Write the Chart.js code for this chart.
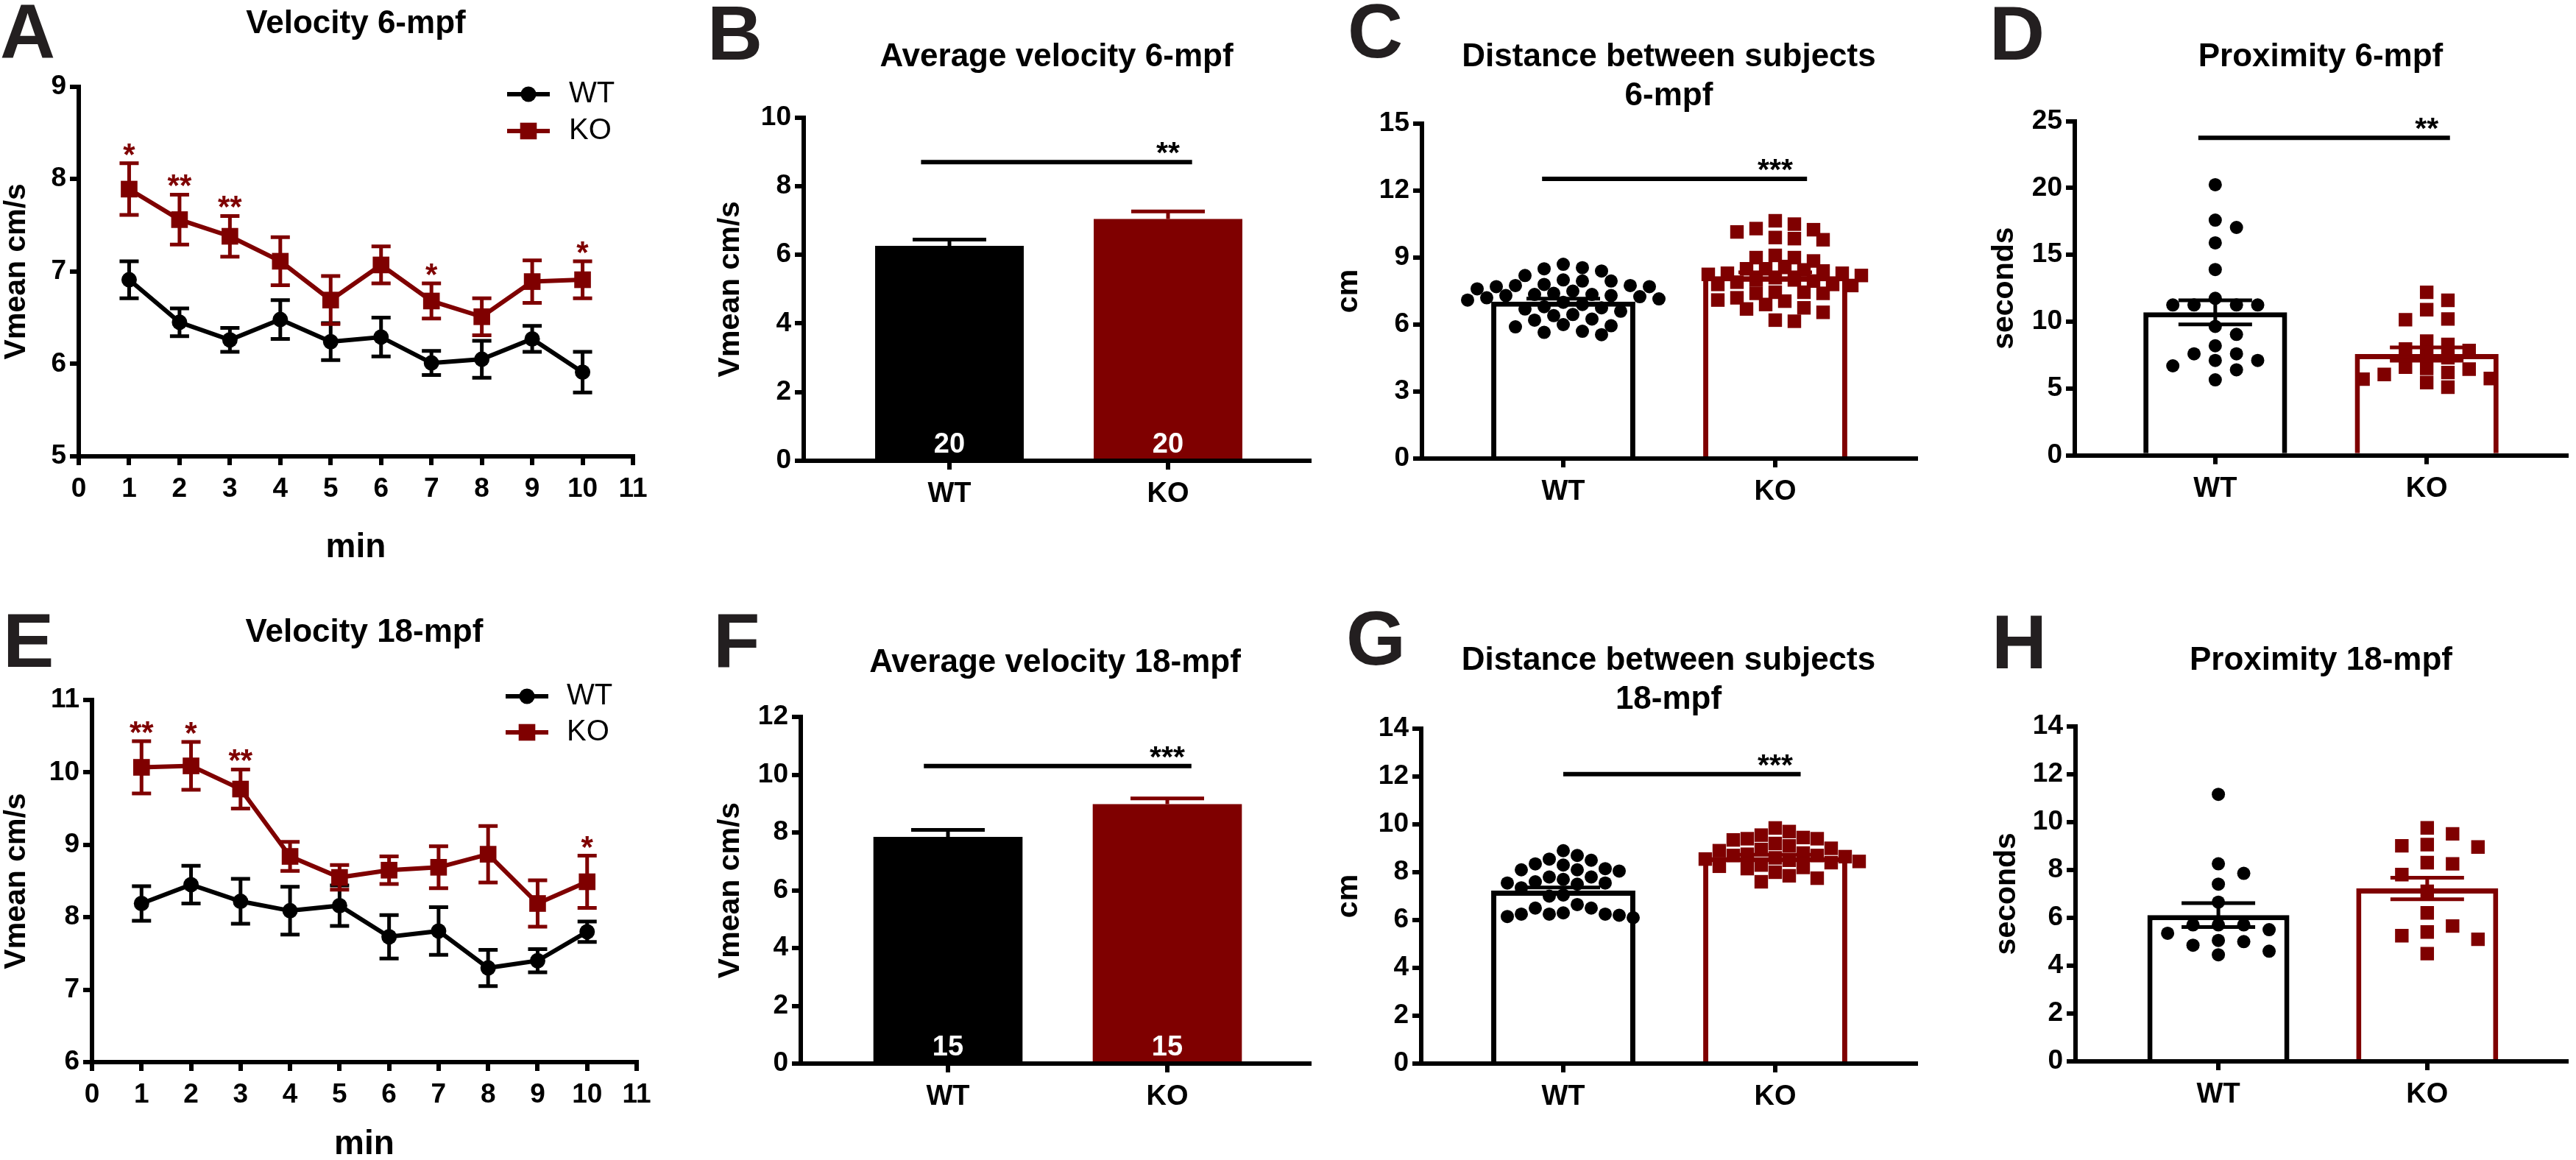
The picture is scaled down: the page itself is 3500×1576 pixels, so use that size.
<!DOCTYPE html>
<html>
<head>
<meta charset="utf-8">
<script src="https://cdn.jsdelivr.net/npm/chart.js@4.4.1/dist/chart.umd.min.js"></script>
<style>
  html, body { margin: 0; padding: 0; background: #fff; }
  #fig { position: relative; width: 3500px; height: 1576px; background: #fff; overflow: hidden; }
  #fig canvas { position: absolute; }
</style>
</head>
<body>
<div id="fig"></div>
<script>
// ---- data ----
var groups = ['WT', 'KO'];
var minutes = [1, 2, 3, 4, 5, 6, 7, 8, 9, 10];
var minuteTicks = [0, 1, 2, 3, 4, 5, 6, 7, 8, 9, 10, 11];

// A: velocity 6-mpf
var vel6Ticks = [5, 6, 7, 8, 9];
var vel6WT = [6.91, 6.45, 6.26, 6.48, 6.24, 6.29, 6.01, 6.05, 6.27, 5.91];
var vel6WTSem = [0.20, 0.15, 0.13, 0.21, 0.20, 0.21, 0.13, 0.20, 0.14, 0.22];
var vel6KO = [7.89, 7.56, 7.38, 7.11, 6.69, 7.07, 6.68, 6.51, 6.89, 6.91];
var vel6KOSem = [0.28, 0.27, 0.22, 0.26, 0.26, 0.20, 0.19, 0.20, 0.23, 0.20];
var vel6Stars = ['*', '**', '**', '', '', '', '*', '', '', '*'];

// E: velocity 18-mpf
var vel18Ticks = [6, 7, 8, 9, 10, 11];
var vel18WT = [8.19, 8.45, 8.22, 8.09, 8.16, 7.73, 7.81, 7.30, 7.40, 7.80];
var vel18WTSem = [0.24, 0.26, 0.31, 0.33, 0.28, 0.30, 0.33, 0.25, 0.16, 0.14];
var vel18KO = [10.07, 10.09, 9.77, 8.84, 8.55, 8.65, 8.69, 8.87, 8.19, 8.49];
var vel18KOSem = [0.36, 0.33, 0.27, 0.20, 0.17, 0.19, 0.29, 0.39, 0.32, 0.36];
var vel18Stars = ['**', '*', '**', '', '', '', '', '', '', '*'];

// B / F: average velocity
var avg6Ticks = [0, 2, 4, 6, 8, 10];
var avg6Mean = [6.26, 7.04];
var avg6Sem = [0.18, 0.22];
var avg6N = [20, 20];
var avg6Bracket = [0.87, 2.11, 8.7];
var avg18Ticks = [0, 2, 4, 6, 8, 10, 12];
var avg18Mean = [7.85, 8.98];
var avg18Sem = [0.24, 0.20];
var avg18N = [15, 15];
var avg18Bracket = [0.89, 2.11, 10.3];

// C / G: distance between subjects
var dist6Ticks = [0, 3, 6, 9, 12, 15];
var dist6Mean = [7.03, 8.17];
var dist6Sem = [0.13, 0.17];
var dist6Bracket = [0.9, 2.15, 12.53];
var dist6WT = [8.7, 8.55, 8.5, 8.4, 8.2, 8.0, 7.95, 7.95, 7.8, 7.75, 7.75, 7.7, 7.7, 7.6, 7.5, 7.4, 7.35, 7.35, 7.3, 7.3,
               7.25, 7.2, 7.15, 7.1, 7.0, 6.9, 6.8, 6.75, 6.7, 6.6, 6.45, 6.4, 6.25, 6.2, 6.0, 5.95, 5.9, 5.7, 5.65, 5.55];
var dist6KO = [10.65, 10.5, 10.3, 10.25, 10.15, 9.9, 9.85, 9.8, 9.1, 9.0, 9.0, 8.85, 8.6, 8.5, 8.5, 8.45, 8.4, 8.3, 8.3, 8.25, 8.2,
               8.1, 8.0, 8.0, 7.95, 7.9, 7.8, 7.8, 7.75, 7.45, 7.45, 7.4, 7.4, 7.2, 7.1, 7.05, 6.9, 6.75, 6.7, 6.55, 6.2, 6.15];
var dist18Ticks = [0, 2, 4, 6, 8, 10, 12, 14];
var dist18Mean = [7.23, 8.63];
var dist18Sem = [0.13, 0.10];
var dist18Bracket = [1.0, 2.12, 12.1];
var dist18WT = [8.9, 8.7, 8.55, 8.5, 8.35, 8.3, 8.15, 8.1, 8.1, 8.05, 7.8, 7.8, 7.7, 7.6, 7.55, 7.55, 7.5, 7.35, 7.05, 7.0,
                6.65, 6.5, 6.5, 6.3, 6.25, 6.25, 6.25, 6.2, 6.15, 6.1];
var dist18KO = [9.85, 9.7, 9.55, 9.45, 9.4, 9.4, 9.35, 9.2, 9.1, 9.0, 8.95, 8.9, 8.8, 8.75, 8.7, 8.7, 8.65, 8.6, 8.55, 8.5,
                8.45, 8.4, 8.3, 8.25, 8.2, 8.15, 8.0, 7.85, 7.75, 7.6];

// D / H: proximity
var prox6Ticks = [0, 5, 10, 15, 20, 25];
var prox6Mean = [10.7, 7.58];
var prox6Sem = [0.9, 0.5];
var prox6Bracket = [0.92, 2.11, 23.75];
var prox6WT = [20.25, 17.6, 17.05, 15.9, 13.9, 11.75, 11.25, 11.25, 11.25, 11.25, 9.65, 9.05, 8.2, 7.6, 7.6, 7.1, 7.1, 6.7, 6.4, 5.65];
var prox6KO = [12.2, 11.6, 10.9, 10.2, 10.15, 8.55, 8.3, 7.95, 7.85, 7.5, 7.3, 6.6, 6.5, 6.45, 6.2, 6.05, 5.75, 5.7, 5.45, 5.1];
var prox18Ticks = [0, 2, 4, 6, 8, 10, 12, 14];
var prox18Mean = [6.11, 7.22];
var prox18Sem = [0.5, 0.45];
var prox18WT = [11.15, 8.25, 7.85, 7.4, 6.65, 5.7, 5.7, 5.5, 5.7, 5.35, 5.05, 4.85, 5.0, 4.6, 4.45];
var prox18KO = [9.75, 9.5, 9.0, 8.95, 9.05, 8.3, 8.25, 7.8, 7.1, 6.2, 5.65, 5.4, 5.25, 5.1, 4.5];

// ---- styling ----
var FONT = '"Liberation Sans", Arial, sans-serif';
var BLACK = '#000000';
var RED = '#7f0000';
var INK = '#231f20';
var colors = [BLACK, RED];
var TITLE_PX = 44, XTITLE_PX = 46, YTITLE_PX = 41;
Chart.defaults.font.family = FONT;
Chart.defaults.color = BLACK;

function addCanvas(box) {
  var c = document.createElement('canvas');
  c.width = box[2];
  c.height = box[3];
  c.style.left = box[0] + 'px';
  c.style.top = box[1] + 'px';
  c.style.width = box[2] + 'px';
  c.style.height = box[3] + 'px';
  document.getElementById('fig').appendChild(c);
  return c;
}

// works out paddings so the plot area lands where it is in the figure
function setup(g) {
  var cx = g.box[0], cy = g.box[1], cw = g.box[2], ch = g.box[3];
  var lines = Array.isArray(g.title) ? g.title.length : 1;
  var tlh = TITLE_PX * 1.2;
  var padTop = g.titleY - tlh / 2 - cy;
  var padLeft = g.yTitleX - YTITLE_PX / 2 - cx;
  var xh = g.xTitleY ? g.xTitleY - g.B + XTITLE_PX * 0.8 / 2 : 70;
  return {
    cx: cx, cy: cy,
    padding: { top: padTop, left: padLeft, right: cx + cw - g.R, bottom: cy + ch - g.B - xh },
    titlePadBottom: g.T - cy - padTop - lines * tlh,
    yWidth: g.L - cx - padLeft,
    xHeight: xh
  };
}

function axisGrid() {
  return { display: true, drawOnChartArea: false, drawTicks: true, tickLength: 12, lineWidth: 6, color: BLACK, offset: false };
}
function axisBorder() {
  return { display: true, color: BLACK, width: 6 };
}

function yAxis(lay, ticks, text) {
  return {
    type: 'linear', position: 'left', min: ticks[0], max: ticks[ticks.length - 1],
    afterBuildTicks: function (ax) { ax.ticks = ticks.map(function (v) { return { value: v }; }); },
    afterFit: function (ax) { ax.width = lay.yWidth; },
    grid: axisGrid(), border: axisBorder(),
    ticks: { color: BLACK, padding: 5, font: { size: 37, weight: 'bold' } },
    title: { display: true, text: text, color: BLACK, padding: 0, font: { size: YTITLE_PX, weight: 'bold', lineHeight: 1 } }
  };
}

function titleOpts(g, lay) {
  return {
    display: true, text: g.title, fullSize: false, color: BLACK,
    font: { size: TITLE_PX, weight: 'bold', lineHeight: 1.2 },
    padding: { top: 0, bottom: lay.titlePadBottom }
  };
}

function lines(ctx, color, width, segs) {
  ctx.save();
  ctx.strokeStyle = color;
  ctx.lineWidth = width;
  ctx.lineCap = 'butt';
  ctx.beginPath();
  segs.forEach(function (s) { ctx.moveTo(s[0], s[1]); ctx.lineTo(s[2], s[3]); });
  ctx.stroke();
  ctx.restore();
}

function text(ctx, str, x, y, font, color, align, base) {
  ctx.save();
  ctx.font = font;
  ctx.fillStyle = color;
  ctx.textAlign = align || 'center';
  ctx.textBaseline = base || 'alphabetic';
  ctx.fillText(str, x, y);
  ctx.restore();
}

function marker(ctx, style, r, x, y, color) {
  ctx.save();
  ctx.fillStyle = color;
  ctx.beginPath();
  if (style === 'rect') {
    var h = r * Math.SQRT1_2;
    ctx.rect(x - h, y - h, 2 * h, 2 * h);
  } else {
    ctx.arc(x, y, r, 0, Math.PI * 2);
  }
  ctx.fill();
  ctx.restore();
}

// beeswarm: spreads points sideways on a grid of slots so they do not pile up
function swarm(values, centre, pxX, pxY, step, gap) {
  var placed = [];
  var out = new Array(values.length);
  var order = values.map(function (v, i) { return i; })
    .sort(function (a, b) { return values[b] - values[a]; });
  order.forEach(function (i) {
    var v = values[i];
    for (var k = 0; k < 80; k++) {
      var dx = (k % 2 ? 1 : -1) * Math.ceil(k / 2) * step;
      var ok = placed.every(function (p) {
        var ex = p[0] - dx, ey = (p[1] - v) * pxY;
        return ex * ex + ey * ey >= gap * gap;
      });
      if (ok) {
        placed.push([dx, v]);
        out[i] = { x: centre + dx / pxX, y: v };
        break;
      }
    }
  });
  return out;
}

function letterPlugin(g, lay, extra) {
  return {
    id: 'decor',
    beforeDatasetsDraw: function (chart) {
      if (extra.before) extra.before(chart, chart.ctx, chart.scales.x, chart.scales.y);
    },
    afterDatasetsDraw: function (chart) {
      if (extra.after) extra.after(chart, chart.ctx, chart.scales.x, chart.scales.y);
    },
    afterDraw: function (chart) {
      text(chart.ctx, g.letter, g.letterX - lay.cx, g.letterY - lay.cy, 'bold 104px ' + FONT, INK, 'left');
      if (extra.last) extra.last(chart, chart.ctx, chart.scales.x, chart.scales.y);
    }
  };
}

// ---- line panels (A, E) ----
function linePanel(g, s) {
  var lay = setup(g);
  var canvas = addCanvas(g.box);
  var series = [
    { label: 'WT', mean: s.wt, sem: s.wtSem, color: BLACK, style: 'circle', r: 10.5 },
    { label: 'KO', mean: s.ko, sem: s.koSem, color: RED, style: 'rect', r: 16 }
  ];
  var datasets = series.map(function (d, k) {
    return {
      type: 'line', label: d.label,
      data: minutes.map(function (m, i) { return { x: m, y: d.mean[i] }; }),
      borderColor: d.color, borderWidth: 6, tension: 0, fill: false,
      pointStyle: d.style, pointRadius: d.r, pointBackgroundColor: d.color, pointBorderWidth: 0,
      clip: false, order: 1 - k
    };
  });
  var extra = {
    before: function (chart, ctx, xs, ys) {
      series.forEach(function (d) {
        var segs = [];
        d.mean.forEach(function (m, i) {
          var x = xs.getPixelForValue(minutes[i]);
          var yt = ys.getPixelForValue(m + d.sem[i]);
          var yb = ys.getPixelForValue(m - d.sem[i]);
          segs.push([x, yt, x, yb], [x - 13, yt, x + 13, yt], [x - 13, yb, x + 13, yb]);
        });
        lines(ctx, d.color, 5, segs);
      });
    },
    last: function (chart, ctx, xs, ys) {
      s.stars.forEach(function (st, i) {
        if (!st) return;
        var x = xs.getPixelForValue(minutes[i]);
        var y = ys.getPixelForValue(s.ko[i] + s.koSem[i]);
        text(ctx, st, x, y + 2, 'bold 42px ' + FONT, RED);
      });
      series.forEach(function (d, k) {
        var y = g.legendY[k] - lay.cy;
        var x1 = g.legendX[0] - lay.cx, x2 = g.legendX[1] - lay.cx;
        lines(ctx, d.color, 6, [[x1, y, x2, y]]);
        marker(ctx, d.style, d.r, (x1 + x2) / 2, y, d.color);
        text(ctx, d.label, g.legendX[2] - lay.cx, y, '40px ' + FONT, BLACK, 'left', 'middle');
      });
    }
  };
  new Chart(canvas, {
    type: 'line',
    data: { datasets: datasets },
    options: {
      responsive: false, animation: false, devicePixelRatio: 1, events: [],
      layout: { padding: lay.padding },
      plugins: { legend: { display: false }, tooltip: { enabled: false }, title: titleOpts(g, lay) },
      scales: {
        x: {
          type: 'linear', position: 'bottom', min: minuteTicks[0], max: minuteTicks[minuteTicks.length - 1],
          afterBuildTicks: function (ax) { ax.ticks = minuteTicks.map(function (v) { return { value: v }; }); },
          afterFit: function (ax) { ax.height = lay.xHeight; },
          grid: axisGrid(), border: axisBorder(),
          ticks: { color: BLACK, padding: 11, autoSkip: false, maxRotation: 0, font: { size: 37, weight: 'bold' } },
          title: { display: true, text: 'min', color: BLACK, padding: 0, font: { size: XTITLE_PX, weight: 'bold', lineHeight: 0.8 } }
        },
        y: yAxis(lay, s.yTicks, 'Vmean cm/s')
      }
    },
    plugins: [letterPlugin(g, lay, extra)]
  });
}

// ---- bar panels (B, C, D, F, G, H) ----
function barPanel(g, s) {
  var lay = setup(g);
  var canvas = addCanvas(g.box);
  var unit = g.c2 - g.c1;
  var xmin = 1 - (g.c1 - g.L) / unit;
  var xmax = 2 + (g.R - g.c2) / unit;
  var ymin = s.yTicks[0], ymax = s.yTicks[s.yTicks.length - 1];
  var pxY = (g.B - g.T) / (ymax - ymin);
  var datasets = [];
  if (s.points) {
    var styles = [{ style: 'circle', r: 9 }, { style: 'rect', r: 13 }];
    s.points.forEach(function (vals, i) {
      datasets.push({
        type: 'scatter', label: groups[i],
        data: swarm(vals, i + 1, unit, pxY, s.step, s.gap),
        pointStyle: styles[i].style, pointRadius: styles[i].r,
        pointBackgroundColor: colors[i], pointBorderWidth: 0, order: 1
      });
    });
  }
  datasets.push({
    type: 'bar', label: 'mean',
    data: s.mean.map(function (m, i) { return { x: i + 1, y: m }; }),
    backgroundColor: s.filled ? colors : ['#ffffff', '#ffffff'],
    borderColor: colors, borderWidth: s.filled ? 0 : 7, borderSkipped: 'start',
    categoryPercentage: 1, barPercentage: 0.68, order: 5
  });
  var extra = {
    after: function (chart, ctx, xs, ys) {
      s.mean.forEach(function (m, i) {
        var x = xs.getPixelForValue(i + 1);
        var yt = ys.getPixelForValue(m + s.sem[i]);
        var yb = s.filled ? ys.getPixelForValue(m) : ys.getPixelForValue(m - s.sem[i]);
        var segs = [[x, yt, x, yb], [x - 50, yt, x + 50, yt]];
        if (!s.filled) segs.push([x - 50, yb, x + 50, yb]);
        lines(ctx, colors[i], 5, segs);
      });
    },
    last: function (chart, ctx, xs, ys) {
      if (s.bracket) {
        var y = ys.getPixelForValue(s.bracket[2]);
        lines(ctx, BLACK, 6, [[xs.getPixelForValue(s.bracket[0]), y, xs.getPixelForValue(s.bracket[1]), y]]);
        text(ctx, s.stars, xs.getPixelForValue(2), y + 1, 'bold 41px ' + FONT, BLACK);
      }
      if (s.n) {
        s.n.forEach(function (n, i) {
          text(ctx, String(n), xs.getPixelForValue(i + 1), ys.getPixelForValue(0) - 11, 'bold 38px ' + FONT, '#ffffff');
        });
      }
    }
  };
  new Chart(canvas, {
    type: 'bar',
    data: { datasets: datasets },
    options: {
      responsive: false, animation: false, devicePixelRatio: 1, events: [],
      layout: { padding: lay.padding },
      plugins: { legend: { display: false }, tooltip: { enabled: false }, title: titleOpts(g, lay) },
      scales: {
        x: {
          type: 'linear', position: 'bottom', min: xmin, max: xmax, offset: false,
          afterBuildTicks: function (ax) { ax.ticks = [{ value: 1 }, { value: 2 }]; },
          afterFit: function (ax) { ax.height = lay.xHeight; },
          grid: axisGrid(), border: axisBorder(),
          ticks: {
            color: BLACK, padding: 11, autoSkip: false, maxRotation: 0, font: { size: 38, weight: 'bold' },
            callback: function (v) { return groups[Math.round(v) - 1]; }
          }
        },
        y: yAxis(lay, s.yTicks, s.yTitle)
      }
    },
    plugins: [letterPlugin(g, lay, extra)]
  });
}

// ---- panels ----
linePanel({
  box: [0, 0, 900, 790], letter: 'A', letterX: 0, letterY: 78,
  title: 'Velocity 6-mpf', titleY: 33, yTitleX: 23, xTitleY: 744,
  L: 107, T: 117.5, R: 860, B: 620,
  legendX: [689, 747, 773], legendY: [128, 178]
}, { wt: vel6WT, wtSem: vel6WTSem, ko: vel6KO, koSem: vel6KOSem, stars: vel6Stars, yTicks: vel6Ticks });

linePanel({
  box: [0, 790, 900, 786], letter: 'E', letterX: 4, letterY: 906,
  title: 'Velocity 18-mpf', titleY: 860, yTitleX: 23, xTitleY: 1555,
  L: 125, T: 951, R: 865, B: 1443,
  legendX: [687, 745, 770], legendY: [946, 995]
}, { wt: vel18WT, wtSem: vel18WTSem, ko: vel18KO, koSem: vel18KOSem, stars: vel18Stars, yTicks: vel18Ticks });

barPanel({
  box: [880, 0, 930, 790], letter: 'B', letterX: 961, letterY: 81,
  title: 'Average velocity 6-mpf', titleY: 78, yTitleX: 993,
  L: 1092, T: 159.5, R: 1779, B: 626, c1: 1290, c2: 1587
}, { yTicks: avg6Ticks, yTitle: 'Vmean cm/s', mean: avg6Mean, sem: avg6Sem, filled: true, n: avg6N,
     bracket: avg6Bracket, stars: '**' });

barPanel({
  box: [880, 790, 930, 786], letter: 'F', letterX: 969, letterY: 906,
  title: 'Average velocity 18-mpf', titleY: 901, yTitleX: 993,
  L: 1088, T: 974, R: 1779, B: 1445, c1: 1288, c2: 1586
}, { yTicks: avg18Ticks, yTitle: 'Vmean cm/s', mean: avg18Mean, sem: avg18Sem, filled: true, n: avg18N,
     bracket: avg18Bracket, stars: '***' });

barPanel({
  box: [1790, 0, 870, 790], letter: 'C', letterX: 1831, letterY: 78,
  title: ['Distance between subjects', '6-mpf'], titleY: 78, yTitleX: 1833,
  L: 1932, T: 168, R: 2603, B: 623, c1: 2124, c2: 2412
}, { yTicks: dist6Ticks, yTitle: 'cm', mean: dist6Mean, sem: dist6Sem, filled: false,
     points: [dist6WT, dist6KO], step: 13, gap: 17, bracket: dist6Bracket, stars: '***' });

barPanel({
  box: [1790, 790, 870, 786], letter: 'G', letterX: 1829, letterY: 903,
  title: ['Distance between subjects', '18-mpf'], titleY: 898, yTitleX: 1833,
  L: 1931, T: 990, R: 2603, B: 1445, c1: 2124, c2: 2412
}, { yTicks: dist18Ticks, yTitle: 'cm', mean: dist18Mean, sem: dist18Sem, filled: false,
     points: [dist18WT, dist18KO], step: 19, gap: 18, bracket: dist18Bracket, stars: '***' });

barPanel({
  box: [2660, 0, 840, 790], letter: 'D', letterX: 2703, letterY: 81,
  title: 'Proximity 6-mpf', titleY: 78, yTitleX: 2724,
  L: 2819, T: 164.6, R: 3491, B: 618.7, c1: 3011, c2: 3300
}, { yTicks: prox6Ticks, yTitle: 'seconds', mean: prox6Mean, sem: prox6Sem, filled: false,
     points: [prox6WT, prox6KO], step: 29, gap: 18, bracket: prox6Bracket, stars: '**' });

barPanel({
  box: [2660, 790, 840, 786], letter: 'H', letterX: 2706, letterY: 908,
  title: 'Proximity 18-mpf', titleY: 898, yTitleX: 2727,
  L: 2820, T: 986.5, R: 3497, B: 1442, c1: 3017, c2: 3305
}, { yTicks: prox18Ticks, yTitle: 'seconds', mean: prox18Mean, sem: prox18Sem, filled: false,
     points: [prox18WT, prox18KO], step: 35, gap: 19 });
</script>
</body>
</html>
